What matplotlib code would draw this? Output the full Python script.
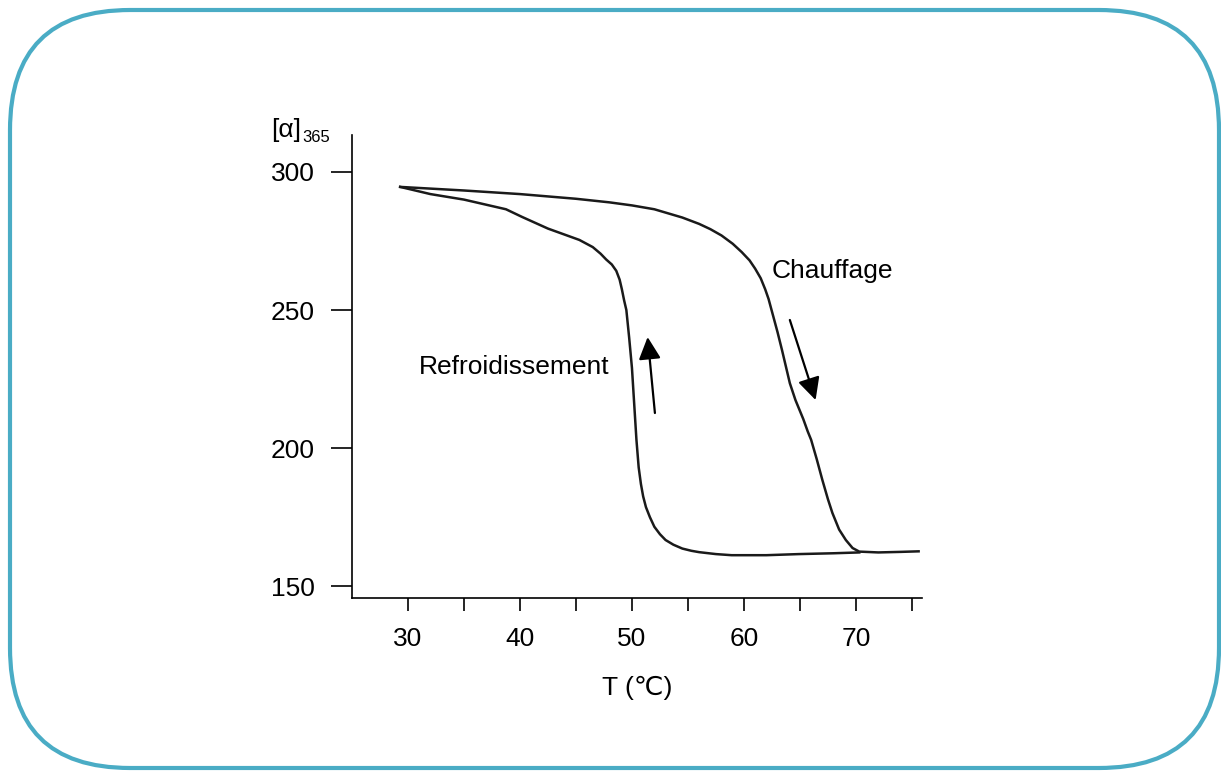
import numpy as np
import matplotlib
matplotlib.use("Agg")
import matplotlib.pyplot as plt
from matplotlib.patches import FancyBboxPatch

plt.rcParams['font.family'] = ['Liberation Sans', 'DejaVu Sans']

# heating curve (Chauffage)
heat_T = [29.3, 35, 40, 45, 48, 50, 52, 54.5, 56, 57, 58, 59, 59.8, 60.5, 61, 61.5, 61.9,
          62.2, 62.6, 63, 63.4, 63.75, 64.1, 64.6, 65.3, 65.7, 66.0, 66.5, 67, 67.5,
          67.9, 68.5, 69.1, 69.7, 70.3, 72, 74, 75.6]
heat_val = [294.6, 293.3, 292.0, 290.3, 289.0, 287.9, 286.5, 283.5, 281.2, 279.3, 277, 274, 271,
            268, 265, 261.5, 257.5, 254, 248, 242, 235.5, 229.5, 223.5, 217.4, 210.5,
            206, 203, 196, 188.5, 181.5, 176.5, 170.5, 166.7, 163.8, 162.5, 162.2, 162.4, 162.6]

# cooling curve (Refroidissement)
cool_T = [29.3, 32, 35, 38.75, 40.2, 42.5, 45.3, 46.5, 47.2, 47.7, 48.2, 48.6, 48.9, 49.1,
          49.3, 49.5, 49.75, 50.0, 50.2, 50.4, 50.6, 50.8, 51.0, 51.25, 51.6, 52,
          52.5, 53.0, 53.7, 54.5, 55.3, 56.0, 57.5, 58.9, 62, 64.9, 68, 70.3]
cool_val = [294.6, 292, 290, 286.5, 283.7, 279.5, 275.4, 272.8, 270.4, 268.3, 266.5, 264.2,
            261, 257.5, 253.5, 250, 240, 229, 216, 203, 193, 187, 182.5, 178.6, 175,
            171.5, 168.8, 166.7, 165, 163.6, 162.8, 162.3, 161.6, 161.2, 161.2, 161.6, 161.9, 162.2]

x_ticks = [30, 40, 50, 60, 70]
x_minor = [35, 45, 55, 65, 75]
y_ticks = [150, 200, 250, 300]

# arrows: (tail, head)
up_arrow = ((52.05, 212.7), (51.4, 240.2))
down_arrow = ((64.1, 246.4), (66.4, 217.4))

fig = plt.figure(figsize=(12.21, 7.71), dpi=100)

# rounded frame, drawn in pixel coords
bg = fig.add_axes([0, 0, 1, 1])
bg.set_xlim(0, 1221)
bg.set_ylim(771, 0)
bg.axis('off')
frame = FancyBboxPatch((10, 10), 1209, 758, boxstyle='round,pad=0,rounding_size=120',
                       fc='none', ec='#4aacc5', lw=3)
bg.add_patch(frame)
bg.text(271, 130, '[α]', fontsize=19, va='center', ha='left')
bg.text(302, 137, '365', fontsize=12, va='center', ha='left')

ax = fig.add_axes([0.2883, 0.2244, 0.4668, 0.6005])
ax.patch.set_visible(False)
ax.plot(heat_T, heat_val, color='#1a1a1a', lw=1.8)
ax.plot(cool_T, cool_val, color='#1a1a1a', lw=1.8)

for tail, head in (up_arrow, down_arrow):
    ax.annotate('', xy=head, xytext=tail,
                arrowprops=dict(arrowstyle='-|>,head_length=0.9,head_width=0.45',
                                mutation_scale=15, color='black', lw=1.6,
                                shrinkA=0, shrinkB=0))

ax.text(62.5, 264.1, 'Chauffage', fontsize=19, va='center', ha='left')
ax.text(31.0, 229.3, 'Refroidissement', fontsize=19, va='center', ha='left')

ax.set_xlim(25, 75.9)
ax.set_ylim(145.7, 313.4)
ax.set_xticks(x_ticks)
ax.set_xticks(x_minor, minor=True)
ax.set_yticks(y_ticks)
ax.spines['top'].set_visible(False)
ax.spines['right'].set_visible(False)
for s in ('left', 'bottom'):
    ax.spines[s].set_linewidth(1.2)
ax.tick_params(axis='x', which='both', direction='out', length=9, width=1.2, pad=12, labelsize=19)
ax.tick_params(axis='y', direction='out', length=15, width=1.2, pad=12, labelsize=19)
ax.set_xlabel('T (℃)', fontsize=19, labelpad=18)

fig.savefig('out.png', dpi=100)
